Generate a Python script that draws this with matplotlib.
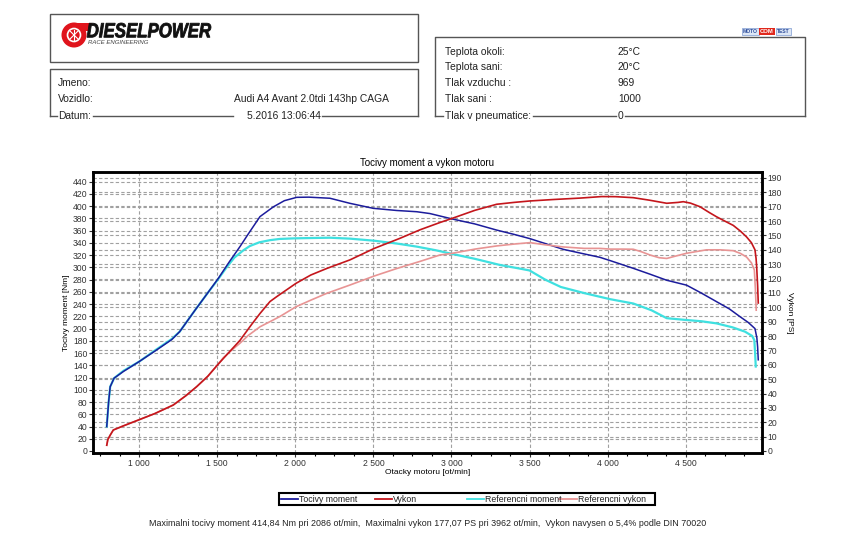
import matplotlib.pyplot as plt
from matplotlib.patches import Rectangle, Circle, Polygon, PathPatch
from matplotlib.textpath import TextPath
from matplotlib.font_manager import FontProperties
from matplotlib.transforms import Affine2D
from matplotlib.ticker import FuncFormatter, MultipleLocator

# --- data read from the dyno sheet ---
torque_rpm = [793, 805, 815, 840, 900, 1000, 1100, 1209, 1260, 1358, 1430, 1507, 1580, 1646,
              1700, 1774, 1860, 1930, 2009, 2086, 2222, 2350, 2500, 2650, 2777, 2862, 3007,
              3150, 3289, 3400, 3502, 3600, 3716, 3850, 3950, 4017, 4164, 4270, 4378, 4505,
              4600, 4697, 4780, 4847, 4900, 4943, 4955, 4960, 4964]
torque_nm = [40, 80, 105, 119, 130, 146, 163, 182, 195, 230, 255, 282, 310, 334,
             355, 383, 399, 409, 414.5, 414.8, 413, 404.7, 396.5, 393, 391, 388, 379,
             371, 361, 354, 347, 339, 329.5, 322, 316.5, 311, 298.5, 289, 279, 271,
             258, 244, 232, 219.5, 210, 200, 185, 170, 149]

power_rpm = [793, 800, 815, 835, 900, 1006, 1100, 1219, 1300, 1369, 1440, 1503, 1570, 1646,
             1720, 1775, 1838, 1881, 2005, 2100, 2201, 2350, 2506, 2670, 2800, 2926, 3007,
             3150, 3289, 3400, 3502, 3650, 3822, 3962, 4050, 4164, 4270, 4378, 4450, 4484,
             4530, 4591, 4650, 4697, 4750, 4804, 4850, 4889, 4920, 4943, 4950, 4954, 4960, 4964]
power_ps = [4, 8, 11, 14.6, 17.5, 22, 26, 32, 38.5, 44.8, 52, 60, 68, 77,
            88, 95.8, 104, 107.4, 116.7, 122.5, 127, 133, 141, 148, 154, 159, 162,
            167.5, 171.7, 173, 174, 175, 176, 177.07, 177, 176.3, 174.5, 172.4, 173, 173.5,
            172.5, 170, 166, 163, 160, 157, 153, 149, 145, 140, 134, 128, 115, 103]

ref_torque_rpm = [793, 805, 815, 840, 900, 1000, 1100, 1209, 1260, 1358, 1430, 1507, 1560, 1610,
                  1668, 1710, 1770, 1838, 1900, 1998, 2100, 2222, 2350, 2506, 2650, 2777, 2900,
                  3005, 3150, 3310, 3428, 3500, 3600, 3700, 3850, 4017, 4164, 4280, 4378, 4505,
                  4600, 4697, 4800, 4879, 4925, 4939, 4944, 4948]
ref_torque_nm = [40, 80, 105, 119, 131, 146, 164, 183, 195, 230, 255, 281, 300, 316,
                 328, 335, 341, 344.5, 346.5, 347.5, 348, 348.5, 347, 343.6, 339, 334, 328,
                 322, 314, 304, 298.5, 295, 280, 268, 258, 248, 241, 230, 217, 214,
                 212, 208.5, 202, 195, 188, 181, 160, 138]

ref_power_rpm = [793, 800, 815, 835, 900, 1006, 1100, 1219, 1300, 1369, 1440, 1503, 1540, 1602,
                 1646, 1700, 1775, 1838, 1900, 2005, 2100, 2201, 2350, 2506, 2650, 2800, 2926,
                 3007, 3150, 3289, 3400, 3502, 3600, 3716, 3850, 3950, 4017, 4100, 4164, 4220,
                 4271, 4330, 4378, 4430, 4505, 4633, 4720, 4804, 4850, 4889, 4920, 4939, 4946, 4951]
ref_power_ps = [4, 8, 11, 14.6, 17.5, 22, 26, 32, 38.5, 44.8, 52, 60, 65, 71,
                75, 80.5, 86.5, 90, 93.5, 100.4, 105, 109.7, 115.5, 121.8, 127, 132, 136.4,
                137.6, 140.5, 142.7, 144, 145, 143.5, 142, 141, 141, 140.5, 140.5, 140.4, 138.5,
                136.4, 134.5, 134, 135.5, 137.6, 140, 140, 139.4, 137.5, 135, 131, 126, 112, 98]

left_info = [("Jmeno:", ""), ("Vozidlo:", "Audi A4 Avant 2.0tdi 143hp CAGA"),
             ("Datum:", "5.2016 13:06:44")]
right_info = [("Teplota okoli:", "25°C"), ("Teplota sani:", "20°C"), ("Tlak vzduchu :", "969"),
              ("Tlak sani :", "1000"), ("Tlak v pneumatice:", "0")]

series_names = ["Tocivy moment", "Vykon", "Referencni moment", "Referencni vykon"]
c_torque, c_power, c_rtorque, c_rpower = "#1c1c9c", "#c4161c", "#3fe0e0", "#e89494"

footer = ("Maximalni tocivy moment 414,84 Nm pri 2086 ot/min,  Maximalni vykon 177,07 PS "
          "pri 3962 ot/min,  Vykon navysen o 5,4% podle DIN 70020")

plt.rcParams['font.family'] = ['Liberation Sans', 'DejaVu Sans']

W, H = 850, 549
fig = plt.figure(figsize=(8.5, 5.49), dpi=100)

# background layer in pixel coordinates for the header boxes, logo, legend
bg = fig.add_axes([0, 0, 1, 1], zorder=0)
bg.set_xlim(0, W)
bg.set_ylim(H, 0)
bg.axis('off')

line_kw = dict(color='#555555', lw=1.0)
bg.add_patch(Rectangle((50, 14), 368, 48, fill=False, ec='#555555', lw=1.0))
# box 2, bottom edge drawn in pieces around the text
bg.plot([50, 50, 418, 418], [116, 69, 69, 116], **line_kw)
bg.plot([50, 57], [116, 116], **line_kw)
bg.plot([93, 233], [116, 116], **line_kw)
bg.plot([322, 418], [116, 116], **line_kw)

bg.plot([435, 435, 805, 805], [116, 37, 37, 116], **line_kw)
bg.plot([435, 443], [116, 116], **line_kw)
bg.plot([533, 616], [116, 116], **line_kw)
bg.plot([625, 805], [116, 116], **line_kw)

txt_kw = dict(fontsize=7.4, color='#222222', va='center')
rows_l = [83, 99.5, 116]
for (lab, val), yy in zip(left_info, rows_l):
    bg.text(58, yy, lab, ha='left', **txt_kw)
bg.text(389, 99.5, left_info[1][1], ha='right', **txt_kw)
bg.text(247, 116, left_info[2][1], ha='left', **txt_kw)

rows_r = [52, 67.5, 83.3, 99, 115.7]
for (lab, val), yy in zip(right_info, rows_r):
    bg.text(445, yy, lab, ha='left', **txt_kw)
    bg.text(618, yy, val, ha='left', **txt_kw)

# DIESELPOWER logo
bg.add_patch(Polygon([[70, 23], [92, 23], [89, 31], [80, 31]], closed=True, fc='#e0141c', ec='none'))
bg.add_patch(Circle((74, 35), 12.5, fc='#e0141c', ec='none'))
bg.add_patch(Circle((74, 35), 6.5, fc='none', ec='white', lw=1.2))
for a, b in [((70, 31), (78, 39)), ((78, 31), (70, 39)), ((74, 29.5), (74, 40.5))]:
    bg.plot([a[0], b[0]], [a[1], b[1]], color='white', lw=0.8)

tp = TextPath((0, 0), "DIESELPOWER", size=10,
              prop=FontProperties(family='Liberation Sans', weight='bold', style='italic'))
ext = tp.get_extents()
sx = 124 / ext.width
sy = 14.5 / ext.height
tr = Affine2D().translate(-ext.x0, -ext.y0).scale(sx, -sy).translate(87, 37.5)
bg.add_patch(PathPatch(tr.transform_path(tp), fc='#111111', ec='#111111', lw=0.6))
bg.text(88, 42.5, "RACE ENGINEERING", fontsize=4.3, fontstyle='italic', color='#444444',
        ha='left', va='center')

# MOTO COM TEST logo
bg.text(743, 31.5, "MOTO", fontsize=3.6, fontweight='bold', color='#2a4a9a', ha='left', va='center',
        bbox=dict(boxstyle='square,pad=0.25', fc='#dce6f5', ec='#7d9ad0', lw=0.5))
bg.text(767, 31.5, "COM", fontsize=4.2, fontweight='bold', color='white', ha='center', va='center',
        bbox=dict(boxstyle='square,pad=0.2', fc='#e0281c', ec='none'))
bg.text(777, 31.5, "TEST", fontsize=3.6, fontweight='bold', color='#2a4a9a', ha='left', va='center',
        bbox=dict(boxstyle='square,pad=0.25', fc='#dce6f5', ec='#7d9ad0', lw=0.5))

# --- chart ---
ax = fig.add_axes([93 / W, 1 - 453 / H, (762 - 93) / W, (453 - 172) / H], zorder=2)
ax.patch.set_alpha(0)
k = 2.348  # Nm per PS on the two scales
y_lo, y_hi = -3.3, 455.9
ax.set_xlim(705, 4988)
ax.set_ylim(y_lo, y_hi)

grid_kw = dict(color='#a0a0a0', lw=0.8, ls=(0, (3, 2)), zorder=0)
for v in range(20, 441, 20):
    ax.axhline(v, **grid_kw)
for v in range(10, 191, 10):
    ax.axhline(v * k, **grid_kw)
for v in range(1000, 4501, 500):
    ax.axvline(v, **grid_kw)

ax.plot(ref_torque_rpm, ref_torque_nm, color=c_rtorque, lw=1.6, zorder=3)
ax.plot(torque_rpm, torque_nm, color=c_torque, lw=1.1, zorder=4)

ax2 = ax.twinx()
ax2.set_ylim(y_lo / k, y_hi / k)
ax2.plot(ref_power_rpm, ref_power_ps, color=c_rpower, lw=1.2, zorder=3)
ax2.plot(power_rpm, power_ps, color=c_power, lw=1.2, zorder=4)

ax.set_xticks(range(1000, 4501, 500))
ax.xaxis.set_minor_locator(MultipleLocator(125))
ax.xaxis.set_major_formatter(FuncFormatter(lambda v, p: f"{int(v):,}".replace(",", " ")))
ax.set_yticks(range(0, 441, 20))
ax2.set_yticks(range(0, 191, 10))

for a in (ax, ax2):
    for s in a.spines.values():
        s.set_linewidth(1.8)
        s.set_color('black')
    a.tick_params(labelsize=6.2, length=3, width=0.8, pad=1, colors='#333333')
ax.tick_params(axis='x', which='minor', length=2.5, width=0.8)

ax.set_title("Tocivy moment a vykon motoru", fontsize=7, pad=4)
ax.set_xlabel("Otacky motoru [ot/min]", fontsize=6, labelpad=1)
ax.set_ylabel("Tocivy moment [Nm]", fontsize=6, labelpad=2)
ax2.set_ylabel("Vykon [PS]", fontsize=6, rotation=270, labelpad=8)

# legend box
bg.add_patch(Rectangle((279, 492.5), 376, 12.5, fill=False, ec='black', lw=1.5))
leg = [(281, 298, c_torque), (375, 392, c_power), (467, 484, c_rtorque), (559, 577, c_rpower)]
for (x0, x1, c), name in zip(leg, series_names):
    bg.plot([x0, x1], [498.8, 498.8], color=c, lw=1.3)
    bg.text(x1 + 1, 499, name, fontsize=6.3, color='#222222', ha='left', va='center')

bg.text(428, 524, footer, fontsize=6.4, color='#222222', ha='center', va='center')

fig.savefig("out.png", dpi=100)
